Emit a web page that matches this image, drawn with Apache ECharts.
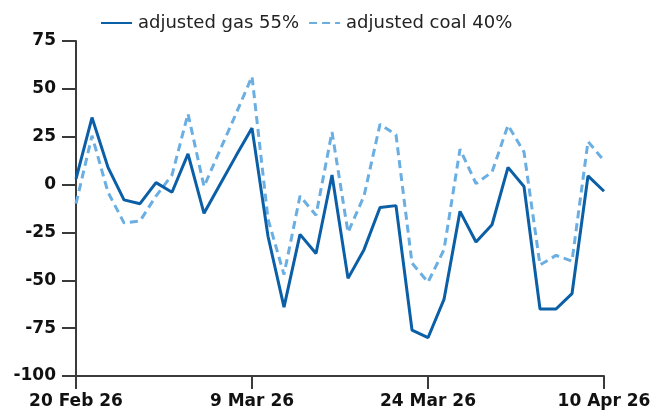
<!DOCTYPE html>
<html>
<head>
<meta charset="utf-8">
<script src="https://cdn.jsdelivr.net/npm/echarts@6/dist/echarts.min.js"></script>
<style>
html,body{margin:0;padding:0;background:#fff;}
#c{width:669px;height:417px;}
</style>
</head>
<body>
<div id="c"></div>
<script>
// Business days (UK), 20 Feb 2026 – 10 Apr 2026
const categories = [
  '20 Feb 26','23 Feb 26','24 Feb 26','25 Feb 26','26 Feb 26','27 Feb 26',
  '2 Mar 26','3 Mar 26','4 Mar 26','5 Mar 26','6 Mar 26',
  '9 Mar 26','10 Mar 26','11 Mar 26','12 Mar 26','13 Mar 26',
  '16 Mar 26','17 Mar 26','18 Mar 26','19 Mar 26','20 Mar 26',
  '23 Mar 26','24 Mar 26','25 Mar 26','26 Mar 26','27 Mar 26',
  '30 Mar 26','31 Mar 26','1 Apr 26','2 Apr 26',
  '7 Apr 26','8 Apr 26','9 Apr 26','10 Apr 26'
];
const gasName = 'adjusted gas 55%';
const coalName = 'adjusted coal 40%';
const gas = [
  3, 35, 9, -8, -10, 1, -4, 16, -15, 0, 15,
  29.5, -27, -64, -26, -36, 5, -49, -34, -12, -11,
  -76, -80, -60, -14, -30, -21, 9, -1, -65, -65,
  -57, 4.5, -3.5
];
const coal = [
  -10, 25.5, -4, -20, -19, -6, 5, 37, -1, 18, 37,
  56.5, -18, -47, -6, -16, 27.5, -25, -6, 31.5, 26,
  -41, -51, -34, 18.5, 0.5, 6.5, 31, 17, -42, -37,
  -40, 22.5, 12.5
];
const yTicks = { min: -100, max: 75, step: 25 };

const chart = echarts.init(document.getElementById('c'), null, { renderer: 'canvas' });
const axisColor = '#3a3a3a';
const labelFont = { fontFamily: 'DejaVu Sans', fontWeight: 'bold', fontSize: 17, color: '#111' };
chart.setOption({
  animation: false,
  backgroundColor: '#fff',
  grid: { left: 76, right: 65, top: 41, bottom: 41, containLabel: false },
  legend: {
    left: 95, top: 9,
    itemWidth: 31, itemHeight: 14, itemGap: 9,
    itemStyle: { opacity: 0 },
    textStyle: { fontFamily: 'DejaVu Sans', fontSize: 18, color: '#222', padding: [0, 0, 0, 1] },
    data: [gasName, coalName]
  },
  xAxis: {
    type: 'category',
    data: categories,
    boundaryGap: false,
    axisLine: { onZero: false, lineStyle: { color: axisColor, width: 2 } },
    axisTick: { show: true, length: 13, interval: 10, lineStyle: { color: axisColor, width: 2 } },
    axisLabel: Object.assign({ interval: 10, margin: 17 }, labelFont),
    splitLine: { show: false }
  },
  yAxis: {
    type: 'value',
    min: yTicks.min, max: yTicks.max, interval: yTicks.step,
    axisLine: { show: true, lineStyle: { color: axisColor, width: 2 } },
    axisTick: { show: true, length: 14, lineStyle: { color: axisColor, width: 2 } },
    axisLabel: Object.assign({ margin: 20 }, labelFont),
    splitLine: { show: false }
  },
  series: [
    {
      name: gasName, type: 'line', data: gas, symbol: 'none',
      lineStyle: { color: '#0b5fa6', width: 3 }, itemStyle: { color: '#0b5fa6' }, z: 3
    },
    {
      name: coalName, type: 'line', data: coal, symbol: 'none',
      lineStyle: { color: '#6aaee2', width: 3, type: [8, 5] }, itemStyle: { color: '#6aaee2' }, z: 2
    }
  ]
});
</script>
</body>
</html>
